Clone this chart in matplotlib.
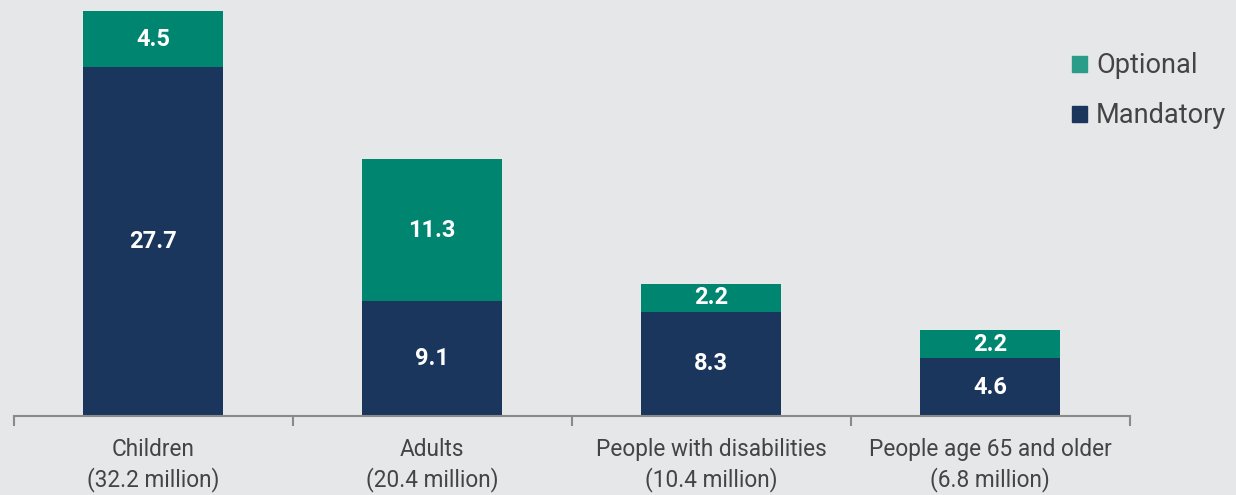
import matplotlib
matplotlib.use("Agg")
import matplotlib.pyplot as plt
from matplotlib.patches import Patch
import numpy as np

categories = ["Children\n(32.2 million)", "Adults\n(20.4 million)",
              "People with disabilities\n(10.4 million)", "People age 65 and older\n(6.8 million)"]
mandatory = [27.7, 9.1, 8.3, 4.6]
optional = [4.5, 11.3, 2.2, 2.2]

BG = "#e6e7e9"
NAVY = "#1b365d"
TEAL = "#008570"
TEAL_LEG = "#2a9d88"

plt.rcParams['font.family'] = ['Roboto', 'DejaVu Sans']

fig = plt.figure(figsize=(12.36, 4.95), dpi=100, facecolor=BG)
ax = fig.add_axes([13.5/1236, 79/495, (1129.5-13.5)/1236, 416/495])
ax.set_facecolor(BG)

x = np.arange(len(categories))
ax.bar(x, mandatory, width=0.5, color=NAVY)
ax.bar(x, optional, width=0.5, bottom=mandatory, color=TEAL)

for xi, m, o in zip(x, mandatory, optional):
    ax.text(xi, m/2, f"{m}", ha="center", va="center", color="white", fontsize=17, fontweight="bold")
    ax.text(xi, m + o/2, f"{o}", ha="center", va="center", color="white", fontsize=17, fontweight="bold")

ax.set_xlim(-0.5, 3.5)
ax.set_ylim(0, 33.05)
for s in ["top", "right", "left"]:
    ax.spines[s].set_visible(False)
ax.spines["bottom"].set_color("#8a8a8a")
ax.spines["bottom"].set_linewidth(1.5)
ax.set_yticks([])
ax.set_xticks(x)
ax.set_xticklabels(categories, fontsize=16.3, color="#444444", linespacing=1.3)
ax.tick_params(axis="x", length=0, pad=16)
ax.set_xticks(np.arange(-0.5, 4.0, 1.0), minor=True)
ax.tick_params(axis="x", which="minor", length=7, width=1.5, color="#8a8a8a", direction="out")

handles = [Patch(color=TEAL_LEG, label="Optional"), Patch(color=NAVY, label="Mandatory")]
leg = fig.legend(handles=handles, loc="upper left", bbox_to_anchor=(1048/1236, 1 - 28/495),
                 frameon=False, fontsize=19.5, handlelength=0.55, handleheight=0.55,
                 handletextpad=0.33, labelspacing=0.85, labelcolor="#444444")

fig.savefig("out.png", dpi=100, facecolor=BG)
